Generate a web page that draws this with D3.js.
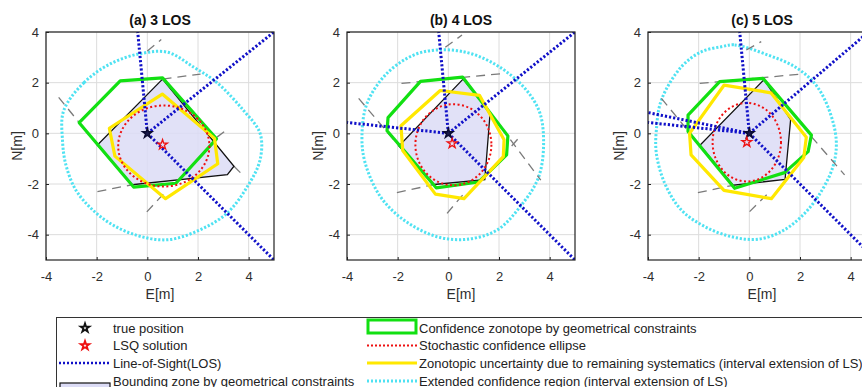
<!DOCTYPE html>
<html>
<head>
<meta charset="utf-8">
<script src="https://cdn.jsdelivr.net/npm/d3@7"></script>
<style>
  body { margin: 0; background: #fff; }
  svg { display: block; font-family: "Liberation Sans", Arial, sans-serif; }
</style>
</head>
<body>
<svg id="chart" width="862" height="387"></svg>
<script>
// ---- data (metres, E / N) ----
const panelTitles = ["(a) 3 LOS", "(b) 4 LOS", "(c) 5 LOS"];
const xTicks = [-4, -2, 0, 2, 4];
const yTicks = [-4, -2, 0, 2, 4];
const truePosition = [0, 0];
const lsqSolution = [[0.6, -0.45], [0.15, -0.4], [-0.1, -0.35]];

// far end points of each line-of-sight ray (starting at the true position)
const losEnds = [
  [[-0.38, 4], [5, 4], [5, -5]],
  [[-0.38, 4], [5, 4], [5, -5], [-4, 0.43]],
  [[-0.38, 4], [5, 4.25], [5, -5], [-4, 0.43], [-4, 0.82]]
];

const boundingZone = [
  [[0.6, 2.14], [3.42, -1.3], [3.16, -1.63], [-0.6, -2.03], [-1.97, -0.46]],
  [[0.58, 2.14], [1.65, 0.82], [1.44, -1.83], [-0.56, -2.02], [-1.95, -0.5]],
  [[0.58, 2.12], [1.63, 0.54], [1.41, -1.82], [-0.64, -2.05], [-1.95, -0.47]]
];

const confZonotope = [
  [[-1.07, 2.07], [0.6, 2.19], [2.73, -0.22], [1.13, -1.97], [-0.54, -2.12], [-2.69, 0.42]],
  [[-1.1, 2.05], [0.56, 2.22], [2.35, -0.1], [2.3, -0.85], [1.2, -1.92], [-0.48, -2.15], [-2.42, 0.1], [-2.38, 0.62]],
  [[-1.17, 2.04], [0.54, 2.17], [2.45, -0.07], [2.32, -0.72], [1.39, -1.55], [-0.58, -2.17], [-2.42, 0.07], [-2.42, 0.72]]
];

const systZonotope = [
  [[0.59, 1.55], [2.65, -0.2], [2.78, -1.2], [0.72, -2.58], [-1.28, -0.9], [-1.5, 0.2]],
  [[-0.32, 1.69], [1.23, 1.5], [2.2, -0.25], [2.17, -0.92], [0.62, -2.58], [-0.51, -2.4], [-1.8, -0.68], [-1.87, 0.3]],
  [[-1.0, 1.9], [0.85, 1.6], [2.25, -0.15], [2.15, -0.95], [0.87, -2.58], [-1.0, -2.25], [-2.3, -0.85], [-2.36, 0.0]]
];

const ellipseCenter = [[0.65, -0.5], [0.2, -0.45], [-0.1, -0.35]];
const ellipseRadii = [[1.8, 1.6], [1.5, 1.6], [1.35, 1.55]];

const extendedRegion = [
  [[-3.3, 0.9], [-2.5, 2.0], [-1.45, 2.75], [-0.26, 3.15], [0.8, 3.2], [1.85, 2.6], [2.75, 2.0], [3.8, 0.9],
   [4.45, 0], [4.45, -1.05], [3.95, -2.1], [3.15, -3.15], [2.1, -3.8], [0.8, -4.2], [-0.5, -4.0], [-1.7, -3.4],
   [-2.75, -2.35], [-3.2, -1.3], [-3.35, -0.26]],
  [[-0.45, 3.29], [0.6, 3.22], [1.66, 2.83], [2.84, 1.97], [3.57, 0.92], [3.76, -0.26], [3.57, -1.71], [2.84, -2.89],
   [1.92, -3.82], [0.74, -4.18], [-0.45, -4.08], [-1.76, -3.42], [-2.68, -2.5], [-3.28, -1.18], [-3.41, -0.13],
   [-3.21, 1.18], [-2.42, 2.37], [-1.37, 3.09]],
  [[-1.1, 3.42], [-0.58, 3.49], [0.74, 3.09], [1.79, 2.63], [2.58, 1.97], [3.1, 1.05], [3.43, -0.26], [3.3, -1.32],
   [2.71, -2.5], [2.05, -3.29], [1.26, -3.88], [0.34, -4.18], [-0.71, -4.08], [-1.76, -3.68], [-2.68, -3.03],
   [-3.34, -1.97], [-3.67, -0.79], [-3.67, 0.13], [-3.47, 1.32], [-2.68, 2.63], [-1.89, 3.22]]
];

// grey dashed constraint lines
const constraintLines = [
  [[[-3.5, 1.42], [-1.97, -0.46]], [[0.6, 2.14], [2.1, 2.34]], [[-1.97, -2.3], [-0.6, -2.03]],
   [[-0.02, -3.1], [0.66, -2.37]], [[0, 3.25], [0.55, 3.7]], [[3.42, -1.3], [3.8, -1.68]], [[2.75, -0.15], [3.05, 0.08]]],
  [[[-3.54, 1.38], [-1.95, -0.5]], [[-1.85, 1.97], [2.25, 2.37]], [[-2.03, -2.34], [-0.56, -2.02]],
   [[-0.05, -3.16], [0.62, -2.37]], [[-0.12, 3.4], [0.54, 3.88]], [[2.45, -0.25], [3.65, -1.85]], [[2.5, -0.5], [2.85, -0.1]]],
  [[[-3.47, 1.38], [-1.95, -0.47]], [[-1.96, 1.97], [2.05, 2.34]], [[-2.03, -2.34], [-0.64, -2.05]],
   [[0.01, -3.09], [0.74, -2.37]], [[-0.12, 3.29], [0.47, 3.62]], [[2.45, -0.13], [3.76, -1.64]]]
];

const legendLeft = ["true position", "LSQ solution", "Line-of-Sight(LOS)", "Bounding zone by geometrical constraints"];
const legendRight = [
  "Confidence zonotope by geometrical constraints",
  "Stochastic confidence ellipse",
  "Zonotopic uncertainty due to remaining systematics (interval extension of LS)",
  "Extended confidence region (interval extension of LS)"
];

// ---- layout ----
const panelLeft = [46, 347, 648];
const panelTop = 32;
const panelSize = 228;

const colors = {
  green: "#12e012",
  yellow: "#ffe800",
  red: "#ee1111",
  blue: "#1010c8",
  cyan: "#4fe2f2",
  fill: "#dcdcf6",
  grid: "#dcdcdc",
  text: "#2e2e2e"
};

const svg = d3.select("#chart");

// draw one panel
panelTitles.forEach((title, i) => {
  const left = panelLeft[i];
  const x = d3.scaleLinear().domain([-4, 5]).range([left, left + panelSize]);
  const y = d3.scaleLinear().domain([-5, 4]).range([panelTop + panelSize, panelTop]);
  const line = d3.line().x(d => x(d[0])).y(d => y(d[1]));

  const g = svg.append("g");

  // clip area
  const clipId = "clip" + i;
  svg.append("clipPath").attr("id", clipId)
    .append("rect")
    .attr("x", left).attr("y", panelTop)
    .attr("width", panelSize).attr("height", panelSize);

  // grid
  g.selectAll(".gx").data(xTicks).join("line")
    .attr("x1", d => x(d)).attr("x2", d => x(d))
    .attr("y1", panelTop).attr("y2", panelTop + panelSize)
    .attr("stroke", colors.grid).attr("stroke-width", 1);
  g.selectAll(".gy").data(yTicks).join("line")
    .attr("y1", d => y(d)).attr("y2", d => y(d))
    .attr("x1", left).attr("x2", left + panelSize)
    .attr("stroke", colors.grid).attr("stroke-width", 1);

  const plot = g.append("g").attr("clip-path", `url(#${clipId})`);

  // bounding zone (filled)
  plot.append("path")
    .attr("d", line(boundingZone[i]) + "Z")
    .attr("fill", colors.fill).attr("fill-opacity", 0.85)
    .attr("stroke", "none");

  // extended confidence region
  plot.append("path")
    .attr("d", d3.line().x(d => x(d[0])).y(d => y(d[1])).curve(d3.curveCatmullRomClosed.alpha(0.5))(extendedRegion[i]))
    .attr("fill", "none").attr("stroke", colors.cyan)
    .attr("stroke-width", 3).attr("stroke-dasharray", "2.2,1.8");

  // constraint lines
  plot.selectAll(".cl").data(constraintLines[i]).join("path")
    .attr("d", d => line(d))
    .attr("fill", "none").attr("stroke", "#7a7a7a")
    .attr("stroke-width", 1.3).attr("stroke-dasharray", "9,6");

  // bounding zone outline
  plot.append("path")
    .attr("d", line(boundingZone[i]) + "Z")
    .attr("fill", "none").attr("stroke", "#111").attr("stroke-width", 1.3);

  // confidence zonotope
  plot.append("path")
    .attr("d", line(confZonotope[i]) + "Z")
    .attr("fill", "none").attr("stroke", colors.green).attr("stroke-width", 3.2)
    .attr("stroke-linejoin", "round");

  // zonotope with remaining systematics
  plot.append("path")
    .attr("d", line(systZonotope[i]) + "Z")
    .attr("fill", "none").attr("stroke", colors.yellow).attr("stroke-width", 3.2)
    .attr("stroke-linejoin", "round");

  // stochastic ellipse
  plot.append("ellipse")
    .attr("cx", x(ellipseCenter[i][0])).attr("cy", y(ellipseCenter[i][1]))
    .attr("rx", x(ellipseRadii[i][0]) - x(0)).attr("ry", y(0) - y(ellipseRadii[i][1]))
    .attr("fill", "none").attr("stroke", colors.red)
    .attr("stroke-width", 2).attr("stroke-dasharray", "2,2.5");

  // LOS rays
  plot.selectAll(".los").data(losEnds[i]).join("path")
    .attr("d", d => line([truePosition, d]))
    .attr("fill", "none").attr("stroke", colors.blue)
    .attr("stroke-width", 3).attr("stroke-dasharray", "2.2,2");

  // markers
  plot.append("path")
    .attr("d", d3.symbol(d3.symbolStar, 28)())
    .attr("transform", `translate(${x(truePosition[0])},${y(truePosition[1])})`)
    .attr("fill", "#1a1a4a").attr("stroke", "#0a0a30").attr("stroke-width", 1.4);
  plot.append("path")
    .attr("d", d3.symbol(d3.symbolStar, 30)())
    .attr("transform", `translate(${x(lsqSolution[i][0])},${y(lsqSolution[i][1])})`)
    .attr("fill", "none").attr("stroke", colors.red).attr("stroke-width", 1.3);

  // axes
  const xAxis = d3.axisBottom(x).tickValues(xTicks).tickSize(-3).tickPadding(12).tickFormat(d3.format("d"));
  const yAxis = d3.axisLeft(y).tickValues(yTicks).tickSize(-3).tickPadding(7).tickFormat(d3.format("d"));
  const gx = g.append("g").attr("transform", `translate(0,${panelTop + panelSize})`).call(xAxis);
  const gy = g.append("g").attr("transform", `translate(${left},0)`).call(yAxis);
  [gx, gy].forEach(a => {
    a.select(".domain").remove();
    a.selectAll(".tick line").attr("stroke", "#222");
    a.selectAll(".tick text")
      .attr("font-size", 13).attr("fill", colors.text)
      .attr("font-family", "Liberation Sans, Arial, sans-serif")
      .text(d => d < 0 ? "-" + Math.abs(d) : d);
  });

  // frame
  g.append("rect")
    .attr("x", left).attr("y", panelTop)
    .attr("width", panelSize).attr("height", panelSize)
    .attr("fill", "none").attr("stroke", "#222").attr("stroke-width", 1.2);

  // title and labels
  g.append("text")
    .attr("x", left + panelSize / 2).attr("y", 25)
    .attr("text-anchor", "middle").attr("font-size", 14).attr("font-weight", "bold")
    .attr("fill", "#111").text(title);
  g.append("text")
    .attr("x", left + panelSize / 2).attr("y", 299)
    .attr("text-anchor", "middle").attr("font-size", 14)
    .attr("fill", colors.text).text("E[m]");
  g.append("text")
    .attr("transform", `translate(${left - 24},${panelTop + panelSize / 2}) rotate(-90)`)
    .attr("text-anchor", "middle").attr("font-size", 14)
    .attr("fill", colors.text).text("N[m]");
});

// ---- legend ----
const legend = svg.append("g");
legend.append("rect")
  .attr("x", 56.5).attr("y", 317.5).attr("width", 900).attr("height", 100)
  .attr("fill", "#fff").attr("stroke", "#333").attr("stroke-width", 1);

const rowY = [328, 345.5, 363, 381];

legend.selectAll(".lt").data(legendLeft).join("text")
  .attr("x", 113).attr("y", (d, k) => rowY[k] + 4.5)
  .attr("font-size", 13).attr("fill", "#222").text(d => d);
legend.selectAll(".rt").data(legendRight).join("text")
  .attr("x", 419).attr("y", (d, k) => rowY[k] + 4.5)
  .attr("font-size", 13).attr("fill", "#222").text(d => d);

// left samples
legend.append("path").attr("d", d3.symbol(d3.symbolStar, 24)())
  .attr("transform", `translate(85,${rowY[0]})`)
  .attr("fill", "none").attr("stroke", "#111").attr("stroke-width", 1.8);
legend.append("path").attr("d", d3.symbol(d3.symbolStar, 24)())
  .attr("transform", `translate(85,${rowY[1]})`)
  .attr("fill", "none").attr("stroke", colors.red).attr("stroke-width", 1.8);
legend.append("line").attr("x1", 59).attr("x2", 110).attr("y1", rowY[2]).attr("y2", rowY[2])
  .attr("stroke", colors.blue).attr("stroke-width", 2.5).attr("stroke-dasharray", "2,2");
legend.append("rect").attr("x", 60).attr("y", 383).attr("width", 50).attr("height", 14)
  .attr("fill", colors.fill).attr("stroke", "#111").attr("stroke-width", 1.2);

// right samples
legend.append("rect").attr("x", 368).attr("y", 320).attr("width", 48).attr("height", 13)
  .attr("fill", "none").attr("stroke", colors.green).attr("stroke-width", 3);
legend.append("line").attr("x1", 367).attr("x2", 417).attr("y1", rowY[1]).attr("y2", rowY[1])
  .attr("stroke", colors.red).attr("stroke-width", 2).attr("stroke-dasharray", "2,2");
legend.append("line").attr("x1", 367).attr("x2", 417).attr("y1", rowY[2]).attr("y2", rowY[2])
  .attr("stroke", colors.yellow).attr("stroke-width", 3);
legend.append("line").attr("x1", 367).attr("x2", 417).attr("y1", rowY[3]).attr("y2", rowY[3])
  .attr("stroke", colors.cyan).attr("stroke-width", 3).attr("stroke-dasharray", "2,2");
</script>
</body>
</html>
